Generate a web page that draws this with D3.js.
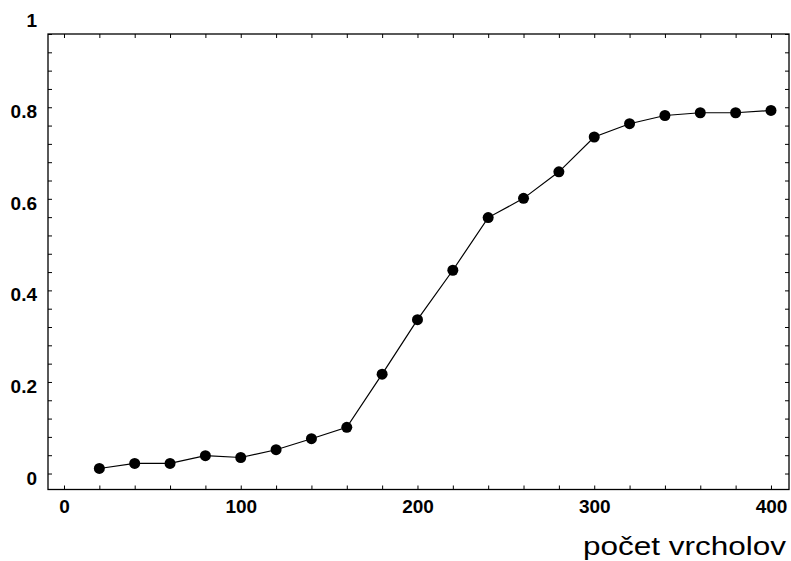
<!DOCTYPE html>
<html>
<head>
<meta charset="utf-8">
<script src="https://cdn.jsdelivr.net/npm/d3@7"></script>
<style>
  html, body { margin: 0; padding: 0; background: #fff; }
  svg { display: block; }
</style>
</head>
<body>
<svg id="chart" width="791" height="561"></svg>
<script>
// ---- data ----
const vertexCounts = [20, 40, 60, 80, 100, 120, 140, 160, 180, 200, 220, 240, 260, 280, 300, 320, 340, 360, 380, 400];
const values = [0.011, 0.022, 0.022, 0.039, 0.035, 0.052, 0.076, 0.101, 0.217, 0.336, 0.444, 0.559, 0.601, 0.659, 0.735, 0.764, 0.782, 0.788, 0.788, 0.793];
const xTickLabels = [0, 100, 200, 300, 400];
const yTickLabels = [0, 0.2, 0.4, 0.6, 0.8, 1];
const xMinorTicks = d3.range(0, 401, 20);
const yMinorTicks = d3.range(0, 25).map(i => +(i * 0.04).toFixed(2));
const xTitle = "počet vrcholov";

// ---- layout ----
const svg = d3.select("#chart");
const frameLeft = 48, frameRight = 789, frameTop = 34, frameBottom = 489.5;

const x = d3.scaleLinear().domain([-9.05, 410.2]).range([frameLeft, frameRight]);
const y = d3.scaleLinear().domain([-0.0349, 0.96]).range([frameBottom, frameTop]);

// frame
svg.append("rect")
  .attr("x", frameLeft).attr("y", frameTop)
  .attr("width", frameRight - frameLeft).attr("height", frameBottom - frameTop)
  .attr("fill", "none").attr("stroke", "#000").attr("stroke-width", 1.3);

// ticks (inside, on all four sides)
const tickLen = 4;
function styleTicks(g) {
  g.select(".domain").remove();
  g.selectAll(".tick line").attr("stroke", "#000").attr("stroke-width", 1);
}
svg.append("g").attr("transform", `translate(0,${frameBottom})`)
  .call(d3.axisBottom(x).tickValues(xMinorTicks).tickSize(-tickLen).tickFormat(""))
  .call(styleTicks);
svg.append("g").attr("transform", `translate(0,${frameTop})`)
  .call(d3.axisTop(x).tickValues(xMinorTicks).tickSize(-tickLen).tickFormat(""))
  .call(styleTicks);
svg.append("g").attr("transform", `translate(${frameLeft},0)`)
  .call(d3.axisLeft(y).tickValues(yMinorTicks).tickSize(-tickLen).tickFormat(""))
  .call(styleTicks);
svg.append("g").attr("transform", `translate(${frameRight},0)`)
  .call(d3.axisRight(y).tickValues(yMinorTicks).tickSize(-tickLen).tickFormat(""))
  .call(styleTicks);

// tick labels
const labelFont = "'Liberation Sans', Arial, Helvetica, sans-serif";
const xLab = svg.append("g").attr("transform", `translate(0,${frameBottom})`)
  .call(d3.axisBottom(x).tickValues(xTickLabels).tickSize(0).tickPadding(0).tickFormat(d3.format("d")));
xLab.select(".domain").remove();
xLab.selectAll("text")
  .attr("y", 23.5).attr("dy", null)
  .attr("font-family", labelFont).attr("font-size", 19).attr("font-weight", "bold")
  .attr("fill", "#000");

const yLab = svg.append("g").attr("transform", `translate(${frameLeft},0)`)
  .call(d3.axisLeft(y).tickValues(yTickLabels).tickSize(0).tickPadding(0)
    .tickFormat(d => d === 0 ? "0" : d === 1 ? "1" : d3.format(".1f")(d)));
yLab.select(".domain").remove();
yLab.selectAll("text")
  .attr("x", -11).attr("dy", null).attr("y", 10.5)
  .attr("text-anchor", "end")
  .attr("font-family", labelFont).attr("font-size", 19).attr("font-weight", "bold")
  .attr("fill", "#000");

// axis title
svg.append("text")
  .attr("x", 583).attr("y", 555)
  .attr("font-family", labelFont).attr("font-size", 26)
  .attr("textLength", 203).attr("lengthAdjust", "spacingAndGlyphs")
  .attr("fill", "#000")
  .text(xTitle);

// data line
const pts = vertexCounts.map((v, i) => [v, values[i]]);
svg.append("path")
  .datum(pts)
  .attr("fill", "none").attr("stroke", "#000").attr("stroke-width", 1.2)
  .attr("d", d3.line().x(d => x(d[0])).y(d => y(d[1])));

svg.append("g").selectAll("circle")
  .data(pts).join("circle")
  .attr("cx", d => x(d[0])).attr("cy", d => y(d[1]))
  .attr("r", 5.5).attr("fill", "#000");
</script>
</body>
</html>
